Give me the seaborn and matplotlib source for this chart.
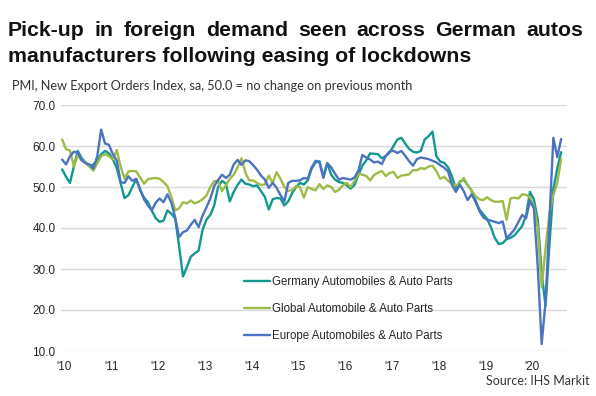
import numpy as np
import pandas as pd
import matplotlib
matplotlib.use('Agg')
import matplotlib.pyplot as plt
import seaborn as sns

# monthly PMI readings, Jan 2010 - Sep 2020
germany = [54.3, 52.5, 51.0, 55.0, 58.8, 57.0, 56.0, 55.0, 55.5, 56.5, 58.0, 58.8,
           58.2, 56.8, 54.6, 51.0, 47.3, 48.0, 50.0, 51.9, 49.2, 47.4, 46.3, 44.2,
           42.4, 41.5, 41.8, 44.3, 43.5, 42.3, 35.5, 28.2, 30.5, 33.0, 33.8, 34.5,
           39.5, 42.0, 43.2, 45.5, 50.0, 51.5, 50.8, 46.5, 48.8, 50.5, 51.8, 50.8,
           50.6, 50.2, 50.4, 49.0, 47.6, 44.5, 47.0, 47.3, 47.2, 45.5, 46.5, 48.5,
           50.0, 51.0, 50.6, 51.6, 54.5, 56.0, 56.3, 52.5, 55.8, 53.0, 51.8, 51.2,
           51.0, 50.4, 49.6, 50.5, 53.0, 55.2, 56.5, 58.2, 58.1, 58.0, 57.0, 57.6,
           58.4, 60.0, 61.6, 62.0, 60.6, 59.3, 58.6, 58.4, 58.8, 61.6, 62.4, 63.5,
           57.5, 56.2, 55.9, 54.8, 52.5, 49.6, 51.3, 51.8, 50.5, 49.2, 46.8, 44.5,
           43.4, 42.2, 40.2, 37.5, 36.1, 36.3, 37.3, 37.6, 38.2, 39.3, 40.5, 43.0,
           48.8, 47.0, 42.0, 29.0, 21.0, 36.0, 49.5, 54.5, 58.5]
global_autos = [61.6, 59.2, 58.9, 55.0, 57.8, 56.5, 56.0, 55.0, 54.0, 55.8, 57.5, 58.0,
                57.5, 56.7, 59.0, 55.0, 52.0, 53.8, 53.9, 53.8, 52.3, 50.8, 51.9, 52.1,
                52.2, 52.0, 51.2, 50.2, 47.6, 44.3, 44.8, 46.3, 46.0, 46.7, 46.0, 46.4,
                47.0, 47.9, 50.0, 51.4, 51.5, 49.0, 50.4, 52.0, 53.0, 54.8, 57.0, 53.5,
                51.6, 51.6, 51.0, 50.5, 50.6, 52.8, 51.0, 53.6, 52.0, 50.0, 49.0, 49.3,
                50.2, 50.0, 47.4, 50.0, 49.5, 49.2, 50.7, 49.5, 50.4, 50.0, 48.8, 49.3,
                50.4, 51.0, 50.0, 51.5, 53.3, 53.0, 52.7, 51.6, 52.9, 53.5, 53.9, 52.7,
                53.4, 53.7, 52.2, 52.8, 52.9, 53.1, 54.1, 54.1, 54.6, 54.4, 55.0, 55.2,
                53.8, 52.0, 52.5, 51.5, 50.8, 50.3, 51.0, 52.2, 50.5, 49.2, 47.8, 47.0,
                46.8, 47.5, 46.8, 46.4, 46.4, 46.6, 42.0, 47.2, 47.4, 47.2, 48.2, 48.1,
                47.5, 45.4, 40.2, 25.5, 35.0, 43.5, 48.0, 51.0, 56.8]
europe = [56.7, 55.5, 57.5, 58.6, 58.4, 56.5, 55.8, 55.5, 54.5, 57.5, 64.0, 60.6,
          60.3, 58.0, 56.5, 51.2, 51.0, 52.6, 51.5, 52.0, 49.5, 47.0, 45.5, 44.3,
          46.2, 47.2, 46.3, 48.2, 46.2, 42.5, 37.8, 39.0, 39.4, 40.8, 42.0, 40.2,
          43.0, 45.0, 47.2, 50.2, 51.7, 53.0, 52.2, 53.0, 55.5, 56.6, 55.4, 56.5,
          56.3, 55.3, 54.2, 52.8, 51.8, 49.8, 51.0, 49.8, 48.0, 46.5, 51.0, 51.5,
          51.5, 51.6, 52.2, 52.0, 54.8, 56.4, 56.0, 52.2, 55.8, 54.8, 53.2, 51.8,
          52.2, 52.0, 51.8, 52.3, 54.0, 57.8, 57.2, 56.7, 56.0, 56.2, 55.6, 57.5,
          58.7, 58.8, 58.3, 58.8, 57.6, 56.3, 55.2, 56.8, 57.2, 57.0, 56.8, 56.4,
          56.0, 55.3, 54.7, 53.8, 50.5, 48.8, 50.6, 49.0, 46.8, 48.2, 46.5, 44.2,
          42.6, 42.0, 41.8, 41.5, 41.2, 41.6, 37.5, 38.5, 39.6, 41.4, 43.2, 42.4,
          46.6, 44.8, 30.5, 11.7, 22.0, 42.0, 62.0, 57.3, 61.7]

series_names = ['Germany Automobiles & Auto Parts',
                'Global Automobile & Auto Parts',
                'Europe Automobiles & Auto Parts']
colors = ['#12988e', '#9dbb45', '#4b73bf']
year_labels = ["'10", "'11", "'12", "'13", "'14", "'15", "'16", "'17", "'18", "'19", "'20"]

df = pd.DataFrame({'month': np.arange(len(germany)),
                   series_names[0]: germany,
                   series_names[1]: global_autos,
                   series_names[2]: europe})
long_df = df.melt(id_vars='month', var_name='series', value_name='pmi')

sns.set_style('white')
plt.rcParams['font.family'] = ['Liberation Sans', 'DejaVu Sans']

fig = plt.figure(figsize=(5.96, 3.96), dpi=100)
ax = fig.add_axes([61 / 596, 1 - 351 / 396, 506 / 596, 246 / 396])

sns.lineplot(data=long_df, x='month', y='pmi', hue='series', hue_order=series_names,
             palette=colors, linewidth=1.7, ax=ax)

ax.set_xlim(-0.3, 129.5)
ax.set_ylim(10, 70)
ax.set_yticks(np.arange(10, 71, 10))
ax.set_yticklabels([f'{v:.1f}' for v in np.arange(10, 71, 10)])
ax.set_xticks(np.arange(0, 121, 12) + 0.6)
ax.set_xticklabels(year_labels)
ax.tick_params(axis='both', length=0, labelsize=8.5, labelcolor='#262626')
ax.tick_params(axis='y', pad=4)
ax.tick_params(axis='x', pad=7)
ax.grid(axis='y', color='#d9d9d9', linewidth=1)
ax.set_axisbelow(True)
for s in ax.spines.values():
    s.set_visible(False)
ax.set_xlabel('')
ax.set_ylabel('')

ax.legend(frameon=False, loc='upper left', bbox_to_anchor=(238 / 596, 1 - 270 / 396),
          bbox_transform=fig.transFigure, borderpad=0, handlelength=2.3,
          handletextpad=0.15, labelspacing=1.3, fontsize=8.3, labelcolor='#262626')

# title, first line justified to the full width
fig.canvas.draw()
renderer = fig.canvas.get_renderer()
words = 'Pick-up in foreign demand seen across German autos'.split()
left_px, right_px = 8, 583
items = [fig.text(0, 1 - 36 / 396, w, fontsize=15.3, fontweight='bold', color='#111111')
         for w in words]
widths = [t.get_window_extent(renderer).width for t in items]
gap = (right_px - left_px - sum(widths)) / (len(words) - 1)
x = left_px
for t, w in zip(items, widths):
    t.set_x(x / 596)
    x += w + gap
fig.text(8 / 596, 1 - 62 / 396, 'manufacturers following easing of lockdowns',
         fontsize=15.3, fontweight='bold', color='#111111')

fig.text(12 / 596, 1 - 90 / 396,
         'PMI, New Export Orders Index, sa, 50.0 = no change on previous month',
         fontsize=9.2, family=['Lato', 'DejaVu Sans'], color='#333333')
fig.text(590 / 596, 1 - 385 / 396, 'Source: IHS Markit', ha='right',
         fontsize=9, family=['Lato', 'DejaVu Sans'], color='#333333')

fig.savefig('out.png', dpi=100)
